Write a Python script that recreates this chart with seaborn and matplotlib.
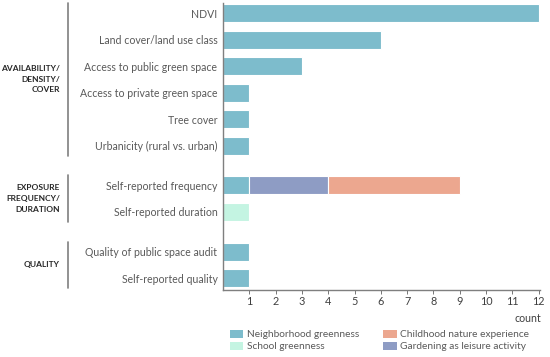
import matplotlib
matplotlib.use("Agg")
import matplotlib.pyplot as plt
from matplotlib.lines import Line2D
from matplotlib.patches import Patch
import seaborn as sns
import pandas as pd

# rows of the chart, top to bottom
labels = ["NDVI", "Land cover/land use class", "Access to public green space",
          "Access to private green space", "Tree cover", "Urbanicity (rural vs. urban)",
          "Self-reported frequency", "Self-reported duration",
          "Quality of public space audit", "Self-reported quality"]
positions = [0, 1, 2, 3, 4, 5, 6.5, 7.5, 9, 10]

# counts per category
neighborhood = [12, 6, 3, 1, 1, 1, 1, 0, 1, 1]
school = [0, 0, 0, 0, 0, 0, 0, 1, 0, 0]
gardening = [0, 0, 0, 0, 0, 0, 3, 0, 0, 0]
childhood = [0, 0, 0, 0, 0, 0, 5, 0, 0, 0]

groups = ["AVAILABILITY/\nDENSITY/\nCOVER", "EXPOSURE\nFREQUENCY/\nDURATION", "QUALITY"]
group_rows = [(0, 5), (6.5, 7.5), (9, 10)]

cat_names = ["Neighborhood greenness", "School greenness",
             "Gardening as leisure activity", "Childhood nature experience"]
colors = {"Neighborhood greenness": "#7dbccc",
          "School greenness": "#c4f4e2",
          "Gardening as leisure activity": "#8e9cc4",
          "Childhood nature experience": "#eca78f"}

sns.set_style("white")
plt.rcParams["font.family"] = ["Lato", "DejaVu Sans"]

# long table of stacked segments
rows = []
for i, lab in enumerate(labels):
    left = 0
    for name, vals in zip(cat_names, [neighborhood, school, gardening, childhood]):
        if vals[i] > 0:
            rows.append(dict(label=lab, pos=positions[i], left=left, value=vals[i], cat=name))
            left += vals[i]
df = pd.DataFrame(rows)

fig = plt.figure(figsize=(5.5, 3.57), dpi=100)
W, H = 550, 357
ax = fig.add_axes([223 / W, 1 - 290 / H, (540 - 223) / W, (290 - 3) / H])

bh = 0.68
for _, r in df.iterrows():
    ax.barh(r["pos"], r["value"], left=r["left"], height=bh,
            color=colors[r["cat"]], edgecolor="white", linewidth=0.8)

ax.set_xlim(0, 12.05)
ax.set_ylim(10.45, -0.38)
ax.set_yticks(positions)
ax.set_yticklabels(labels, fontsize=7.6, color="#595959")
ax.tick_params(axis="y", length=0, pad=4)
ax.set_xticks(range(1, 13))
ax.tick_params(axis="x", length=3, width=0.6, color="#606060", labelsize=7.8,
               labelcolor="#404040", pad=1, direction="out", bottom=True)
sns.despine(ax=ax, top=True, right=True)
for s in ["left", "bottom"]:
    ax.spines[s].set_color("#7f7f7f")
    ax.spines[s].set_linewidth(1.0)

fig.text(541 / W, 1 - 318 / H, "count", ha="right", va="center", fontsize=7.6, color="#404040")

# group labels and separators
ypix = lambda p: 13 + p * 26.5
for g, (a, b) in zip(groups, group_rows):
    y0 = ypix(a) - 10
    y1 = ypix(b) + 10
    fig.add_artist(Line2D([68 / W, 68 / W], [1 - y0 / H, 1 - y1 / H],
                          color="#7f7f7f", lw=1.2))
    fig.text(60 / W, 1 - ((y0 + y1) / 2) / H, g, ha="right", va="center",
             fontsize=6.0, fontweight="bold", color="#262626", linespacing=1.6)

leg_labels = ["Neighborhood greenness", "School greenness",
              "Childhood nature experience", "Gardening as leisure activity"]
handles = [Patch(facecolor=colors[n], edgecolor="none") for n in leg_labels]
fig.legend(handles, leg_labels, ncol=2, loc="upper left",
           bbox_to_anchor=(225 / W, 1 - 325 / H), frameon=False, fontsize=7.3,
           labelcolor="#595959", handlelength=1.3, handleheight=0.8,
           handletextpad=0.35, columnspacing=2.4, labelspacing=0.25, borderpad=0)

fig.savefig("out.png", dpi=100)
